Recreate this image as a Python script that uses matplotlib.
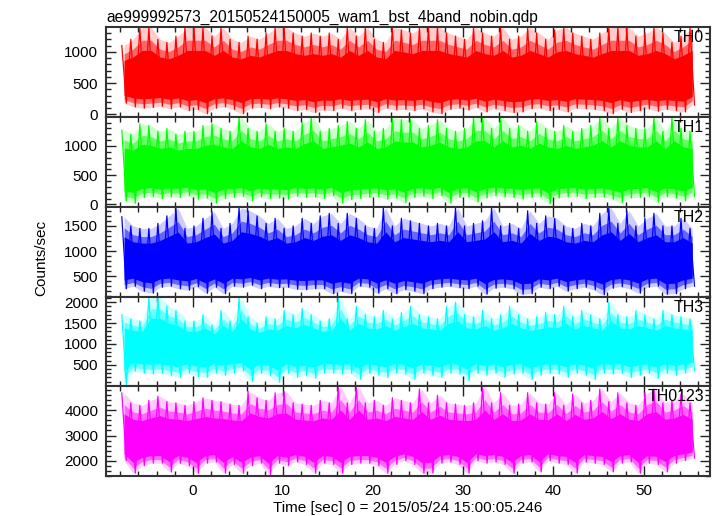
import numpy as np
import matplotlib
matplotlib.use("Agg")
import matplotlib.pyplot as plt
from matplotlib.ticker import MultipleLocator

plt.rcParams['font.family'] = ['Liberation Sans', 'DejaVu Sans']

title = "ae999992573_20150524150005_wam1_bst_4band_nobin.qdp"
xlabel = "Time [sec] 0 = 2015/05/24 15:00:05.246"
ylabel = "Counts/sec"

# light curve, read per 1 s bin: upper and lower extremes of the noisy band
t_start = -8.1
n_bins = 64

names = ["TH0", "TH1", "TH2", "TH3", "TH0123"]
colors = ["#ff0000", "#00ff00", "#0000ff", "#00ffff", "#ff00ff"]
means = [570, 600, 800, 1000, 2850]

th0_hi = [1100, 1200, 1390, 1390, 1200, 1150, 1250, 1390, 1390, 1390, 1250, 1390, 1200, 1150, 1250, 1200,
          1300, 1390, 1390, 1300, 1250, 1300, 1250, 1300, 1200, 1390, 1250, 1390, 1200, 1150, 1390, 1350,
          1300, 1390, 1390, 1390, 1300, 1250, 1200, 1390, 1300, 1250, 1390, 1200, 1250, 1390, 1300, 1200,
          1350, 1390, 1300, 1250, 1200, 1300, 1390, 1390, 1390, 1250, 1300, 1390, 1300, 1150, 1250, 1390]
th0_lo = [180, 120, 100, 110, 130, 90, 120, 60, 80, 10, 100, 120, 80, 10, 100, 110,
          90, 120, 100, 60, 80, 30, 70, 60, 100, 60, 80, 90, 30, 100, 70, 80,
          60, 90, 40, 10, 80, 100, 70, 110, 40, 90, 60, 30, 40, 90, 100, 60,
          80, 40, 100, 90, 80, 60, 10, 80, 30, 60, 90, 50, 80, 60, 40, 150]

th1_hi = [1270, 1200, 1380, 1350, 1250, 1300, 1200, 1250, 1250, 1350, 1380, 1300, 1250, 1490, 1300, 1250,
          1380, 1250, 1300, 1250, 1400, 1490, 1250, 1300, 1350, 1420, 1300, 1450, 1250, 1300, 1480, 1450,
          1450, 1300, 1350, 1450, 1300, 1250, 1300, 1490, 1490, 1300, 1490, 1300, 1350, 1250, 1420, 1300,
          1250, 1350, 1250, 1300, 1350, 1490, 1300, 1490, 1350, 1300, 1300, 1490, 1250, 1490, 1300, 1250]
th1_lo = [60, 20, 120, 140, 100, 130, 120, 150, 90, 110, 20, 100, 120, 140, 60, 130,
          100, 110, 90, 140, 120, 130, 100, 150, 20, 80, 100, 120, 130, 90, 110, 30,
          120, 140, 100, 150, 20, 120, 130, 40, 110, 150, 130, 120, 90, 120, 130, 10,
          110, 130, 140, 100, 120, 130, 90, 30, 110, 120, 140, 40, 130, 110, 60, 140]

th2_hi = [1680, 1500, 1450, 1450, 1550, 1700, 1850, 1450, 1500, 1650, 1780, 1450, 1550, 1860, 1800, 1700,
          1550, 1650, 1450, 1500, 1650, 1550, 1700, 1750, 1550, 1750, 1650, 1500, 1450, 1860, 1500, 1650,
          1600, 1550, 1500, 1550, 1500, 1860, 1500, 1550, 1600, 1860, 1500, 1550, 1450, 1800, 1550, 1700,
          1650, 1500, 1450, 1550, 1500, 1750, 1860, 1550, 1800, 1500, 1650, 1750, 1500, 1500, 1650, 1450]
th2_lo = [250, 300, 200, 160, 280, 300, 250, 220, 290, 160, 280, 150, 300, 280, 320, 250,
          300, 270, 280, 240, 230, 250, 250, 150, 200, 150, 300, 280, 160, 250, 150, 230,
          200, 150, 250, 280, 300, 270, 250, 300, 140, 260, 280, 250, 140, 150, 280, 250,
          300, 200, 250, 280, 230, 130, 260, 290, 250, 160, 280, 300, 140, 150, 250, 300]

th3_hi = [1700, 1600, 1550, 2120, 2120, 1900, 1800, 1550, 1550, 1700, 1450, 1800, 1550, 2100, 1650, 1500,
          1650, 1600, 1800, 1700, 1850, 1700, 1550, 1600, 2120, 1600, 1900, 1700, 1650, 1800, 1600, 1750,
          1900, 1700, 1650, 1600, 1900, 2000, 1700, 1650, 1800, 1600, 1700, 1900, 1700, 1600, 1650, 1750,
          1700, 1900, 1650, 1800, 1700, 1600, 2000, 1700, 1650, 1800, 1700, 1600, 1800, 1700, 1650, 1600]
th3_lo = [30, 350, 300, 280, 300, 250, 200, 300, 220, 200, 300, 250, 300, 350, 100, 300,
          250, 80, 300, 200, 250, 180, 300, 300, 280, 300, 150, 300, 250, 200, 300, 280,
          150, 300, 250, 200, 300, 280, 120, 300, 250, 300, 200, 280, 300, 150, 250, 300,
          280, 200, 300, 250, 150, 300, 280, 300, 200, 250, 300, 180, 300, 250, 300, 350]

th0123_hi = [4690, 4300, 4200, 4400, 4560, 4350, 4300, 4200, 4350, 4500, 4400, 4350, 4250, 4200, 4750, 4500,
             4400, 4700, 4750, 4300, 4250, 4200, 4400, 4300, 4960, 4300, 4960, 4300, 4400, 4200, 4500, 4400,
             4300, 4850, 4300, 4600, 4300, 4250, 4200, 4300, 4960, 4300, 4700, 4200, 4250, 4700, 4300, 4250,
             4700, 4200, 4650, 4300, 4400, 4850, 4350, 4700, 4300, 4200, 4700, 4850, 4300, 4400, 4650, 4300]
th0123_lo = [2000, 1500, 1800, 1900, 1900, 1550, 1900, 1800, 1500, 1900, 1950, 1500, 1850, 1500, 1800, 1900,
             1450, 1900, 1800, 1950, 1850, 1500, 1900, 1850, 1500, 1850, 1900, 1900, 1800, 1500, 1850, 2000,
             1850, 1500, 1500, 1900, 1950, 1850, 1500, 2000, 1900, 1950, 1850, 1500, 1900, 1950, 1550, 2000,
             1900, 1850, 1500, 1950, 1900, 1850, 1550, 1900, 1950, 1500, 1900, 1850, 1550, 1900, 2000, 2100]

highs = [th0_hi, th1_hi, th2_hi, th3_hi, th0123_hi]
lows = [th0_lo, th1_lo, th2_lo, th3_lo, th0123_lo]

ylims = [(-43, 1391), (-41, 1495), (94, 1880), (-14, 2135), (1388, 4960)]
yticks = [[0, 500, 1000], [0, 500, 1000], [500, 1000, 1500], [500, 1000, 1500, 2000], [2000, 3000, 4000]]
yminor = [100, 100, 100, 100, 200]

t = t_start + 0.5 + np.arange(n_bins)
# each bin drawn as its maximum then its minimum, joined as one line
t_zig = np.column_stack([t - 0.25, t + 0.25]).ravel()

fig = plt.figure(figsize=(7.17, 5.16), dpi=100)
fig.subplots_adjust(left=0.1485, right=0.990, top=0.947, bottom=0.0775, hspace=0)
axes = fig.subplots(5, 1, sharex=True)

for i, ax in enumerate(axes):
    hi = np.array(highs[i], dtype=float)
    lo = np.array(lows[i], dtype=float)
    m = means[i]
    c = colors[i]
    y_zig = np.column_stack([hi, lo]).ravel()
    # sparse outer spikes, denser middle, solid core
    ax.fill_between(t, lo, hi, color=c, alpha=0.2, lw=0)
    ax.fill_between(t, m - 0.85 * (m - lo), m + 0.75 * (hi - m), color=c, alpha=0.5, lw=0)
    ax.fill_between(t, m - 0.68 * (m - lo), m + 0.55 * (hi - m), color=c, lw=0)
    ax.plot(t_zig, y_zig, color=c, lw=0.9)

    ax.set_xlim(-9.55, 57.35)
    ax.set_ylim(*ylims[i])
    ax.set_yticks(yticks[i])
    ax.yaxis.set_minor_locator(MultipleLocator(yminor[i]))
    ax.xaxis.set_major_locator(MultipleLocator(10))
    ax.xaxis.set_minor_locator(MultipleLocator(2))
    ax.tick_params(which='both', direction='in', top=True, right=True, labelsize=11,
                   color='#222222', width=1.0)
    ax.tick_params(which='major', length=7, pad=6)
    ax.tick_params(which='minor', length=3.5)
    for s in ax.spines.values():
        s.set_linewidth(1.5)
        s.set_color('#333333')
    ax.text(0.99, 0.965, names[i], transform=ax.transAxes, ha='right', va='top', fontsize=11.5)

axes[0].set_title(title, loc='left', fontsize=11.2, pad=4)
axes[-1].set_xlabel(xlabel, fontsize=11, labelpad=2)
fig.text(0.058, 0.5, ylabel, rotation=90, ha='center', va='center', fontsize=11)

fig.savefig("out.png", dpi=100)
